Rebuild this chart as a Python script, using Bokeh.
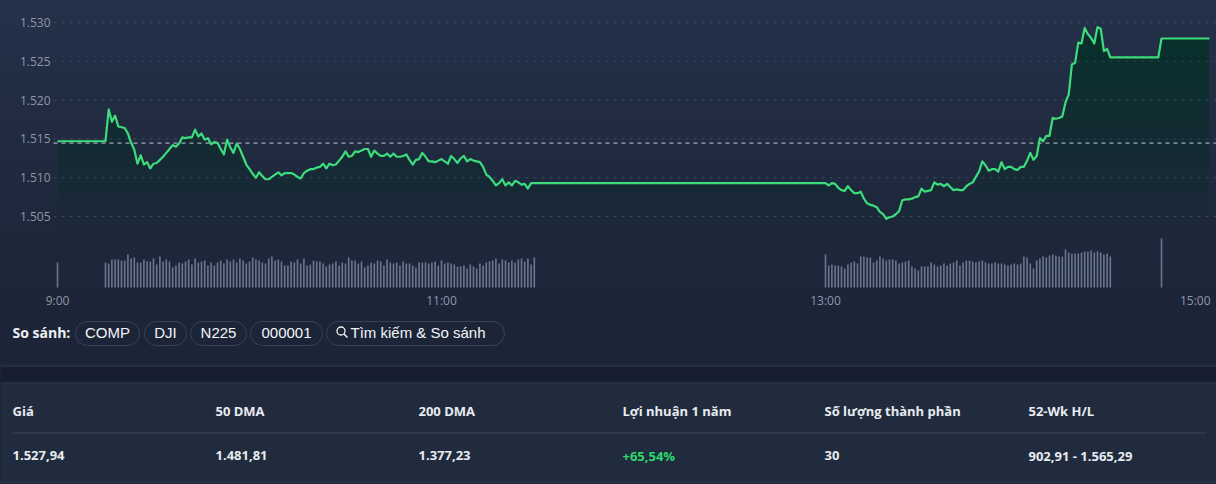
import numpy as np
from bokeh.plotting import figure
from bokeh.layouts import column
from bokeh.models import Range1d, GlobalInlineStyleSheet
from bokeh.core.properties import value
from bokeh.embed import file_html
from bokeh.resources import INLINE

# ---------------- data ----------------
open_time = "09:00"
open_price = 1514.7
prev_close = 1514.45

morning_start = "09:15"
morning_prices = [
    1514.7, 1518.8, 1517.2, 1518.0, 1516.6, 1516.5, 1516.4, 1515.7, 1514.5, 1513.6,
    1511.8, 1512.9, 1511.7, 1512.0, 1511.2, 1511.8, 1511.9, 1512.3, 1512.7, 1513.2,
    1513.7, 1514.2, 1514.0, 1514.4, 1515.2, 1515.1, 1515.2, 1515.2, 1516.2, 1515.3,
    1515.7, 1514.9, 1515.1, 1514.3, 1514.6, 1514.5, 1513.7, 1513.0, 1514.9, 1513.9,
    1513.2, 1514.4, 1513.7, 1512.7, 1511.7, 1511.1, 1510.5, 1510.0, 1510.7, 1510.2,
    1509.8, 1509.8, 1510.1, 1510.4, 1510.7, 1510.3, 1510.6, 1510.6, 1510.6, 1510.4,
    1510.1, 1509.9, 1510.6, 1510.9, 1511.1, 1511.1, 1511.3, 1511.4, 1511.8, 1511.2,
    1511.8, 1511.6, 1511.7, 1512.2, 1512.7, 1513.4, 1512.7, 1512.8, 1513.4, 1513.3,
    1513.5, 1513.7, 1513.7, 1512.7, 1513.5, 1513.1, 1512.8, 1512.8, 1513.1, 1512.7,
    1513.1, 1512.7, 1512.7, 1512.8, 1513.0, 1512.3, 1511.7, 1512.3, 1512.4, 1513.2,
    1512.7, 1512.1, 1512.1, 1512.0, 1512.2, 1512.4, 1512.1, 1511.8, 1512.8, 1512.4,
    1511.9, 1512.5, 1512.8, 1512.1, 1512.4, 1512.2, 1512.1, 1512.0, 1511.4, 1510.4,
    1510.1, 1509.6, 1509.0, 1509.3, 1509.8, 1509.0, 1509.4, 1509.0, 1509.6, 1509.4,
    1509.1, 1509.2, 1508.6, 1509.3, 1509.3, 1509.3,
]

afternoon_start = "13:00"
afternoon_prices = [
    1509.3, 1509.0, 1509.3, 1509.2, 1508.7, 1508.4, 1508.3, 1508.9, 1508.4, 1508.0,
    1508.0, 1508.2, 1507.3, 1506.7, 1506.5, 1506.4, 1506.2, 1505.6, 1505.3, 1504.7,
    1504.9, 1505.0, 1505.3, 1505.7, 1507.1, 1507.2, 1507.2, 1507.3, 1507.5, 1507.6,
    1508.6, 1508.2, 1508.3, 1508.4, 1509.4, 1509.1, 1509.2, 1508.9, 1509.2, 1508.8,
    1508.4, 1508.5, 1508.4, 1508.4, 1508.9, 1509.2, 1509.4, 1510.1, 1510.8, 1512.1,
    1511.6, 1510.9, 1511.1, 1511.1, 1510.8, 1512.0, 1511.1, 1511.4, 1511.4, 1511.1,
    1511.0, 1511.4, 1511.4, 1512.2, 1513.2, 1512.3, 1512.8, 1515.1, 1514.7, 1515.4,
    1515.4, 1517.7, 1517.6, 1517.7, 1517.9, 1519.7, 1520.7, 1524.6, 1524.8, 1527.4,
    1527.3, 1529.3, 1528.5, 1528.0, 1527.3, 1529.4, 1529.2, 1526.3, 1526.6, 1525.5,
    1525.5,
]

close_times = ["14:44", "14:45", "15:00"]
close_prices = [1525.5, 1527.94, 1527.94]

open_volume = 25
morning_volumes = [
    25, 24, 28, 28, 28, 27, 27, 33, 29, 30, 25, 25, 28, 26, 26, 29, 23, 31, 26, 28,
    26, 20, 22, 25, 24, 26, 28, 23, 29, 25, 26, 27, 22, 25, 22, 25,
    27, 24, 28, 26, 28, 25, 29, 27, 24, 26, 30, 28, 27, 25, 24, 29, 31, 27, 28, 26,
    22, 22, 26, 25, 28, 24,
    29, 22, 23, 27, 26, 26, 24, 21, 23, 24, 26, 22, 25, 24, 30, 27, 27, 24, 26, 20,
    22, 25, 24, 27, 26, 22, 28, 25, 24, 25, 22, 26, 24, 24, 22, 20, 25, 25, 25, 24,
    25, 26, 22, 27, 24, 25, 24, 23, 21, 21, 22, 19, 23, 21, 19, 24, 22, 25, 26, 27,
    29, 24, 28, 27, 25, 27, 25, 28, 29, 26, 29, 23, 30,
]
afternoon_volumes = [
    33, 22, 23, 22, 22, 21, 19, 23, 25, 26,
    24, 31, 31, 30, 30, 25, 27, 31, 29, 27,
    28, 28, 27, 24, 25, 26, 27, 21, 19, 17,
    21, 21, 21, 25, 23, 21, 22, 24, 22, 24,
    25, 27, 22, 25, 27, 27, 26, 25, 26, 27,
    25, 24, 24, 25, 24, 24, 23, 22, 23, 24,
    23, 24, 31, 30, 24, 19, 27, 29, 31, 30,
    32, 33, 32, 31, 31, 38, 35, 34, 34, 34,
    35, 36, 36, 37, 35, 36, 35, 33, 34, 31,
]
atc_time = "14:45"
atc_volume = 49

y_ticks = [1505, 1510, 1515, 1520, 1525, 1530]
y_tick_labels = ["1.505", "1.510", "1.515", "1.520", "1.525", "1.530"]
x_tick_times = ["09:00", "11:00", "13:00", "15:00"]
x_tick_labels = ["9:00", "11:00", "13:00", "15:00"]

compare_label = "So sánh:"
compare_buttons = ["COMP", "DJI", "N225", "000001"]
search_label = "Tìm kiếm & So sánh"
stat_headers = ["Giá", "50 DMA", "200 DMA", "Lợi nhuận 1 năm", "Số lượng thành phần", "52-Wk H/L"]
stat_values = ["1.527,94", "1.481,81", "1.377,23", "+65,54%", "30", "902,91 - 1.565,29"]


def to_min(hhmm):
    h, m = hhmm.split(":")
    return (int(h) - 9) * 60 + int(m)


# ---------------- assemble series ----------------
m0 = to_min(morning_start)
a0 = to_min(afternoon_start)
xs = ([to_min(open_time)] + [m0 + i for i in range(len(morning_prices))]
      + [a0 + i for i in range(len(afternoon_prices))] + [to_min(t) for t in close_times])
ys = [open_price] + morning_prices + afternoon_prices + close_prices
xs = np.array(xs, dtype=float)
ys = np.array(ys, dtype=float)

vx = ([to_min(open_time)] + [m0 + i for i in range(len(morning_volumes))]
      + [a0 + i for i in range(len(afternoon_volumes))] + [to_min(atc_time)])
vy = [open_volume] + morning_volumes + afternoon_volumes + [atc_volume]

FONT = value("Open Sans")
X0, X1 = -1.25, 362.0   # horizontal extent of the plotting area (minutes from 9:00)

# ---------------- chart figure ----------------
p = figure(width=1216, height=310,
           x_range=Range1d(-17.8125, 362.1875), y_range=Range1d(1492.887, 1532.835),
           x_axis_location=None, y_axis_location=None, min_border=0,
           toolbar_location=None, output_backend="svg")
p.extra_y_ranges = {"vol": Range1d(-23, 287)}
p.styles = {"background": "linear-gradient(180deg, #243149 0%, #1f293d 60%, #1c2538 100%)"}
p.background_fill_alpha = 0
p.border_fill_alpha = 0
p.outline_line_color = None
p.grid.visible = False

# horizontal dashed grid + y labels
p.segment(x0=[X0] * len(y_ticks), x1=[X1] * len(y_ticks), y0=y_ticks, y1=y_ticks,
          line_color="#3a4763", line_dash="3 5", line_width=1)
p.text(x=[X0] * len(y_ticks), y=y_ticks, text=y_tick_labels, x_offset=-3,
       text_align="right", text_baseline="middle", text_color="#8d96a7",
       text_font=FONT, text_font_size="12px")

# gradient fill under the line (stacked translucent layers)
for lvl in np.arange(1502.0, 1532.0, 1.0):
    p.varea(x=xs, y1=np.full_like(ys, lvl), y2=np.maximum(ys, lvl),
            fill_color="#2ecc71", fill_alpha=0.0055)

# volume bars
p.vbar(x=vx, top=vy, bottom=0, width=0.5, y_range_name="vol",
       fill_color="#6a778e", line_color=None)

# previous close
p.segment(x0=[X0], x1=[X1], y0=[prev_close], y1=[prev_close],
          line_color="#a2a9b5", line_dash="4 4", line_width=1.4)

# price line
p.line(xs, ys, line_color="#3ddc7c", line_width=2.2, line_join="round")

# x tick labels
xt = [to_min(t) for t in x_tick_times]
p.text(x=xt[:-1], y=[-13] * (len(xt) - 1), text=x_tick_labels[:-1], y_range_name="vol",
       text_align="center", text_baseline="middle", text_color="#8d96a7",
       text_font=FONT, text_font_size="12px")
p.text(x=xt[-1:], y=[-13], text=x_tick_labels[-1:], y_range_name="vol",
       text_align="right", text_baseline="middle", text_color="#8d96a7",
       text_font=FONT, text_font_size="12px", x_offset=1)

# ---------------- info panel ----------------
q = figure(width=1216, height=174, x_range=Range1d(0, 1216), y_range=Range1d(174, 0),
           min_border=0, toolbar_location=None, output_backend="svg")
q.axis.visible = False
q.grid.visible = False
q.outline_line_color = None
q.background_fill_color = "#1c2538"
q.border_fill_color = "#1c2538"

# band backgrounds
q.quad(left=[0], right=[1216], top=[56], bottom=[72], fill_color="#161e2f", line_color=None)
q.quad(left=[0], right=[1216], top=[72], bottom=[174], fill_color="#212b3e", line_color=None)
q.segment(x0=[0, 0, 0], x1=[1216, 1216, 1216], y0=[55.5, 72.5, 171.5], y1=[55.5, 72.5, 171.5],
          line_color="#2f3a4e", line_width=1)
q.segment(x0=[12], x1=[1206], y0=[122.5], y1=[122.5], line_color="#3c475a", line_width=1)

# compare row
q.text(x=[12], y=[22], text=[compare_label], text_baseline="middle",
       text_color="#eef0f4", text_font=FONT, text_font_style="bold", text_font_size="14px")
pill_left = [75, 144, 190, 250, 326]
pill_right = [139, 186, 246, 322, 504]
q.quad(left=pill_left, right=pill_right, top=[11] * 5, bottom=[35] * 5,
       fill_alpha=0, line_color="#36425a", line_width=1, border_radius=12)
pill_cx = [(l + r) / 2 for l, r in zip(pill_left[:4], pill_right[:4])]
q.text(x=pill_cx, y=[22] * 4, text=compare_buttons, text_align="center", text_baseline="middle",
       text_color="#f2f4f7", text_font=value("Liberation Sans"), text_font_size="15px")
q.scatter(x=[340.5], y=[20.5], size=8, marker="circle", fill_alpha=0,
          line_color="#f2f4f7", line_width=1.3)
q.segment(x0=[343.5], y0=[23.5], x1=[347], y1=[27], line_color="#f2f4f7", line_width=1.5)
q.text(x=[350], y=[22], text=[search_label], text_baseline="middle",
       text_color="#f2f4f7", text_font=value("Liberation Sans"), text_font_size="15px")

# stats table
col_x = [12, 215, 418, 622, 824, 1028]
q.text(x=col_x, y=[100] * 6, text=stat_headers, text_baseline="middle",
       text_color="#e8ebf0", text_font=FONT, text_font_style="bold", text_font_size="13px")
val_colors = ["#e8ebf0", "#e8ebf0", "#e8ebf0", "#2fd86c", "#e8ebf0", "#e8ebf0"]
q.text(x=col_x, y=[145] * 6, text=stat_values, text_baseline="middle",
       text_color=val_colors, text_font=FONT, text_font_style="bold", text_font_size="13px")

layout = column(p, q, spacing=0)
layout.stylesheets = [GlobalInlineStyleSheet(
    css="html, body { margin: 0 !important; padding: 0; background: #1c2538; overflow: hidden; }")]

open("out.html", "w").write(file_html(layout, INLINE))
